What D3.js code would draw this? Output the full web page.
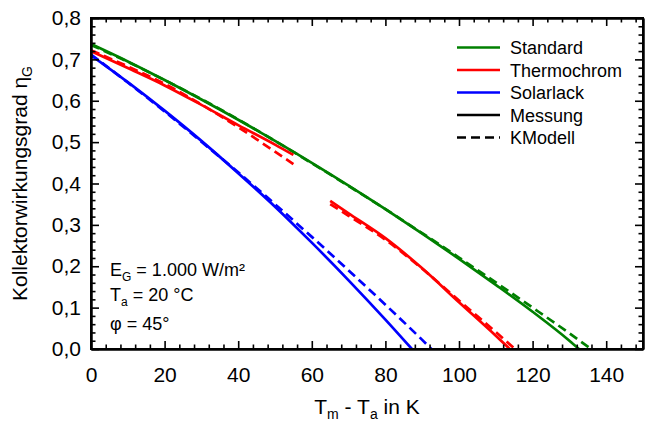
<!DOCTYPE html>
<html><head><meta charset="utf-8">
<script src="https://cdn.jsdelivr.net/npm/d3@7"></script>
<style>
html,body{margin:0;padding:0;background:#fff;}
svg{display:block;font-family:"Liberation Sans",Arial,sans-serif;}
</style></head>
<body><svg id="c" width="649" height="423"></svg>
<script>
// ---- data ----
const stdMessX = [0,10,20,30,40,50,60,70,80,90,100,110,120,130,132.6];
const stdMessY = [0.737,0.695,0.650,0.603,0.554,0.503,0.450,0.395,0.338,0.279,0.218,0.155,0.090,0.020,0];
const stdModX  = [0,10,20,30,40,50,60,70,80,90,100,110,120,130,135.9];
const stdModY  = [0.735,0.694,0.650,0.604,0.555,0.503,0.449,0.394,0.338,0.280,0.221,0.161,0.100,0.038,0];
const thMess1X = [0,10,20,30,40,50,55];
const thMess1Y = [0.720,0.679,0.637,0.590,0.541,0.494,0.469];
const thMod1X  = [0,10,20,30,40,50,55];
const thMod1Y  = [0.722,0.683,0.641,0.591,0.536,0.477,0.447];
const thMess2X = [65,70,80,90,100,110,113.8];
const thMess2Y = [0.358,0.328,0.268,0.195,0.113,0.032,0];
const thMod2X  = [65,70,80,90,100,110,115.2];
const thMod2Y  = [0.350,0.322,0.264,0.194,0.117,0.041,0];
const solMessX = [0,10,20,30,40,50,60,70,80,87.2];
const solMessY = [0.710,0.645,0.576,0.503,0.425,0.344,0.257,0.166,0.071,0];
const solModX  = [0,10,20,30,40,50,60,70,80,90,92.5];
const solModY  = [0.712,0.644,0.574,0.501,0.427,0.350,0.271,0.190,0.107,0.022,0];

const xMajor = [0,20,40,60,80,100,120,140];
const yMajor = [0,0.1,0.2,0.3,0.4,0.5,0.6,0.7,0.8];
const legendNames = ["Standard","Thermochrom","Solarlack","Messung","KModell"];
const legendColors = ["#008000","#ff0000","#0000ff","#000000","#000000"];

// ---- layout ----
const L=91, R=643, T=18, B=349;
const svg = d3.select("#c");
const x = d3.scaleLinear().domain([0,150]).range([L,R]);
const y = d3.scaleLinear().domain([0,0.8]).range([B,T]);
const xMinor = d3.range(0,150.001,4).filter(v=>!xMajor.includes(v));
const yMinor = d3.range(0,0.8001,0.02).map(v=>+v.toFixed(2)).filter(v=>!yMajor.some(m=>Math.abs(m-v)<1e-9));
const fmt = v => d3.format(".1f")(v).replace(".",",");

svg.append("clipPath").attr("id","pc").append("rect")
  .attr("x",L).attr("y",T).attr("width",R-L).attr("height",B-T);

const series = [
  {xs:stdMessX, ys:stdMessY, c:"#008000", dash:null},
  {xs:stdModX,  ys:stdModY,  c:"#008000", dash:"9,5"},
  {xs:thMess1X, ys:thMess1Y, c:"#ff0000", dash:null},
  {xs:thMod1X,  ys:thMod1Y,  c:"#ff0000", dash:"9,5"},
  {xs:thMess2X, ys:thMess2Y, c:"#ff0000", dash:null},
  {xs:thMod2X,  ys:thMod2Y,  c:"#ff0000", dash:"9,5"},
  {xs:solMessX, ys:solMessY, c:"#0000ff", dash:null},
  {xs:solModX,  ys:solModY,  c:"#0000ff", dash:"9,5"}
];
const line = d3.line().x(d=>x(d[0])).y(d=>y(d[1])).curve(d3.curveMonotoneX);
const g = svg.append("g").attr("clip-path","url(#pc)");
series.forEach(s=>{
  g.append("path").datum(s.xs.map((v,i)=>[v,s.ys[i]]))
   .attr("d",line).attr("fill","none").attr("stroke",s.c)
   .attr("stroke-width",2.7).attr("stroke-dasharray",s.dash);
});

// ---- axes ----
function styleAxis(sel){
  sel.selectAll("path").attr("stroke","#000").attr("stroke-width",2);
  sel.selectAll("line").attr("stroke","#000").attr("stroke-width",1.6);
  sel.selectAll("text").attr("fill","#000");
}
const axes = svg.append("g");
axes.append("g").attr("transform",`translate(0,${B})`).call(d3.axisBottom(x).tickValues(xMinor).tickSize(-4.5).tickFormat("").tickSizeOuter(0)).call(styleAxis);
axes.append("g").attr("transform",`translate(0,${T})`).call(d3.axisTop(x).tickValues(xMinor).tickSize(-4.5).tickFormat("").tickSizeOuter(0)).call(styleAxis);
axes.append("g").attr("transform",`translate(${L},0)`).call(d3.axisLeft(y).tickValues(yMinor).tickSize(-4.5).tickFormat("").tickSizeOuter(0)).call(styleAxis);
axes.append("g").attr("transform",`translate(${R},0)`).call(d3.axisRight(y).tickValues(yMinor).tickSize(-4.5).tickFormat("").tickSizeOuter(0)).call(styleAxis);
const xb = axes.append("g").attr("transform",`translate(0,${B})`)
  .call(d3.axisBottom(x).tickValues(xMajor).tickSize(-8).tickSizeOuter(0).tickPadding(18).tickFormat(d3.format("d"))).call(styleAxis);
xb.selectAll("text").attr("font-size",21);
axes.append("g").attr("transform",`translate(0,${T})`).call(d3.axisTop(x).tickValues(xMajor).tickSize(-8).tickFormat("").tickSizeOuter(0)).call(styleAxis);
const yl = axes.append("g").attr("transform",`translate(${L},0)`)
  .call(d3.axisLeft(y).tickValues(yMajor).tickSize(-8).tickSizeOuter(0).tickPadding(10).tickFormat(fmt)).call(styleAxis);
yl.selectAll("text").attr("font-size",21);
axes.append("g").attr("transform",`translate(${R},0)`).call(d3.axisRight(y).tickValues(yMajor).tickSize(-8).tickFormat("").tickSizeOuter(0)).call(styleAxis);
svg.append("rect").attr("x",L).attr("y",T).attr("width",R-L).attr("height",B-T)
  .attr("fill","none").attr("stroke","#000").attr("stroke-width",2);

// ---- titles ----
const xt = svg.append("text").attr("x",(L+R)/2).attr("y",414).attr("text-anchor","middle").attr("font-size",21);
xt.append("tspan").text("T");
xt.append("tspan").attr("font-size",14).attr("dy",5).text("m");
xt.append("tspan").attr("dy",-5).text(" - T");
xt.append("tspan").attr("font-size",14).attr("dy",5).text("a");
xt.append("tspan").attr("dy",-5).text(" in K");

const yt = svg.append("text").attr("transform",`translate(27,${(T+B)/2}) rotate(-90)`)
  .attr("text-anchor","middle").attr("font-size",21);
yt.append("tspan").text("Kollektorwirkungsgrad η");
yt.append("tspan").attr("font-size",14).attr("dy",5).text("G");

// ---- annotation ----
const ann = svg.append("g").attr("font-size",18);
const a1 = ann.append("text").attr("x",110).attr("y",276);
a1.append("tspan").text("E"); a1.append("tspan").attr("font-size",12).attr("dy",5).text("G");
a1.append("tspan").attr("dy",-5).text(" = 1.000 W/m²");
const a2 = ann.append("text").attr("x",110).attr("y",301);
a2.append("tspan").text("T"); a2.append("tspan").attr("font-size",12).attr("dy",5).text("a");
a2.append("tspan").attr("dy",-5).text(" = 20 °C");
ann.append("text").attr("x",110).attr("y",330).text("φ = 45°");

// ---- legend ----
const lg = svg.append("g");
legendNames.forEach((n,i)=>{
  const cy = 47.5 + i*22.5;
  lg.append("line").attr("x1",457).attr("x2",500).attr("y1",cy).attr("y2",cy)
    .attr("stroke",legendColors[i]).attr("stroke-width",2.7)
    .attr("stroke-dasharray", i===4 ? "9,5" : null);
  lg.append("text").attr("x",510).attr("y",cy+6.5).attr("font-size",18).text(n);
});
</script></body></html>
